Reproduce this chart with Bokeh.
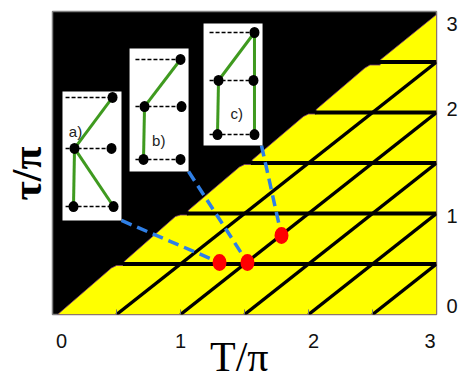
from bokeh.plotting import figure
from bokeh.models import LinearAxis, Range1d, FixedTicker
from bokeh.embed import file_html
from bokeh.resources import INLINE
from bokeh.core.properties import value

# All coordinates in T/pi, tau/pi units
edge_T = [0.04, 0.46, 0.50, 0.56, 0.56, 0.96, 1.0, 1.06, 1.06, 1.46, 1.50, 1.56, 1.56, 1.96, 2.0, 2.06, 2.06, 2.44, 2.48, 2.56, 2.56, 3.0, 3.0]
edge_tau = [0.0, 0.46, 0.485, 0.485, 0.525, 0.97, 0.985, 0.985, 1.03, 1.46, 1.485, 1.485, 1.53, 1.96, 1.985, 1.985, 2.03, 2.44, 2.47, 2.47, 2.52, 2.97, 0.0]

h_tau = [0.5, 1.0, 1.5, 2.0, 2.5]
h_start = [0.55, 1.05, 1.55, 2.05, 2.55]
diag_T0 = [0.5, 1.0, 1.5, 2.0, 2.5]
tick_T = [0.5, 1.0, 1.5, 2.0, 2.5]

x_tick_pos = [0.07, 1.0, 2.04, 2.95]
x_tick_lab = ["0", "1", "2", "3"]
y_tick_pos = [0.08, 0.98, 2.03, 2.88]
y_tick_lab = ["0", "1", "2", "3"]

inset_T0 = [0.078, 0.602, 1.180]
inset_T1 = [0.539, 1.063, 1.641]
inset_tau0 = [0.931, 1.416, 1.673]
inset_tau1 = [2.208, 2.634, 2.881]

left_T = [[0.172, 0.164], [0.719, 0.711], [1.297, 1.289]]
right_T = [[0.469, 0.461, 0.477], [1.0, 1.008, 1.0], [1.578, 1.570, 1.578]]
row_tau = [[2.149, 1.644, 1.069], [2.525, 2.059, 1.535], [2.792, 2.317, 1.782]]
dash_T0 = [0.102, 0.648, 1.227]
inset_text = ["a)", "b)", "c)"]
text_T = [0.18, 0.83, 1.44]
text_tau = [1.81, 1.72, 1.99]

blue_T0 = [0.539, 1.063, 1.633]
blue_tau0 = [0.931, 1.416, 1.673]
red_T = [1.305, 1.523, 1.789]
red_tau = [0.515, 0.515, 0.782]

x_title = "T/π\u00a0"
y_title = "τ/π\u00a0\u00a0"

p = figure(frame_width=384, frame_height=303, output_backend="svg", toolbar_location=None,
           x_range=Range1d(0, 3), y_range=Range1d(0, 3),
           min_border_left=45, min_border_right=0, min_border_top=11, min_border_bottom=62,
           background_fill_color="black", border_fill_color="white")
p.xgrid.visible = False
p.ygrid.visible = False
p.outline_line_color = "#808080"
p.outline_line_width = 1.5

# Yellow region
p.patch(edge_T, edge_tau, fill_color="#FFFF00", line_color="#7A3A7A", line_width=0.8)

# Lattice lines
p.segment(h_start, h_tau, [3.0] * 5, h_tau, line_color="black", line_width=4)
p.segment(diag_T0, [0.0] * 5, [3.0] * 5, [3.0 - t for t in diag_T0], line_color="black", line_width=3.4)
p.segment(tick_T, [0.0] * 5, tick_T, [0.05] * 5, line_color="#777777", line_width=1)

# Blue dashed connectors
for i in range(3):
    p.line([blue_T0[i], red_T[i]], [blue_tau0[i], red_tau[i]], line_color="#2F7FE6",
           line_width=3.5, line_dash="11 6")

# Insets
p.quad(left=inset_T0, right=inset_T1, bottom=inset_tau0, top=inset_tau1,
       fill_color="white", line_color=None)
for i in range(3):
    rows = row_tau[i]
    L = left_T[i]
    R = right_T[i]
    p.segment([dash_T0[i]] * 3, rows, R, rows, line_color="black", line_width=1.5, line_dash="4 2")
    if i == 0:
        gx = [[R[0], L[0]], [L[0], L[1]], [L[0], R[2]]]
        gy = [[rows[0], rows[1]], [rows[1], rows[2]], [rows[1], rows[2]]]
    elif i == 1:
        gx = [[R[0], L[0]], [L[0], L[1]]]
        gy = [[rows[0], rows[1]], [rows[1], rows[2]]]
    else:
        gx = [[R[0], L[0]], [L[0], L[1]], [R[0], R[2]]]
        gy = [[rows[0], rows[1]], [rows[1], rows[2]], [rows[0], rows[2]]]
    p.multi_line(gx, gy, line_color="#3F9A1F", line_width=3)
    p.ellipse(x=[R[0], L[0], R[1], L[1], R[2]],
              y=[rows[0], rows[1], rows[1], rows[2], rows[2]],
              width=10, height=11, width_units="screen", height_units="screen",
              fill_color="black", line_color=None)
    p.text([text_T[i]], [text_tau[i]], text=[inset_text[i]], text_font=value("Liberation Sans"),
           text_font_size="15px", text_color="#222222", text_align="center", text_baseline="middle")

# Red markers
p.ellipse(x=red_T, y=red_tau, width=14, height=17, width_units="screen", height_units="screen",
          fill_color="#FF0000", line_color=None)

# Axes
xa = p.xaxis[0]
xa.ticker = FixedTicker(ticks=x_tick_pos)
xa.major_label_overrides = {t: l for t, l in zip(x_tick_pos, x_tick_lab)}
xa.major_tick_line_color = None
xa.minor_tick_line_color = None
xa.axis_line_color = None
xa.major_label_text_font = "Liberation Sans"
xa.major_label_text_font_size = "20px"
xa.major_label_text_color = "#111111"
xa.major_label_standoff = 13
xa.axis_label = x_title
xa.axis_label_text_font = "Liberation Serif"
xa.axis_label_text_font_size = "42px"
xa.axis_label_text_font_style = "normal"
xa.axis_label_text_color = "black"
xa.axis_label_standoff = -17

ya = p.yaxis[0]
ya.ticker = FixedTicker(ticks=[])
ya.major_tick_line_color = None
ya.minor_tick_line_color = None
ya.axis_line_color = None
ya.major_label_text_font_size = "0px"
ya.axis_label = y_title
ya.axis_label_text_font = "Liberation Serif"
ya.axis_label_text_font_size = "42px"
ya.axis_label_text_font_style = "bold"
ya.axis_label_text_color = "black"
ya.axis_label_standoff = 3

ra = LinearAxis(ticker=FixedTicker(ticks=y_tick_pos),
                major_label_overrides={t: l for t, l in zip(y_tick_pos, y_tick_lab)})
ra.major_tick_line_color = None
ra.minor_tick_line_color = None
ra.axis_line_color = None
ra.major_label_text_font = "Liberation Sans"
ra.major_label_text_font_size = "20px"
ra.major_label_text_color = "#111111"
ra.major_label_standoff = 4
p.add_layout(ra, "right")

open("out.html", "w").write(file_html(p, INLINE))
